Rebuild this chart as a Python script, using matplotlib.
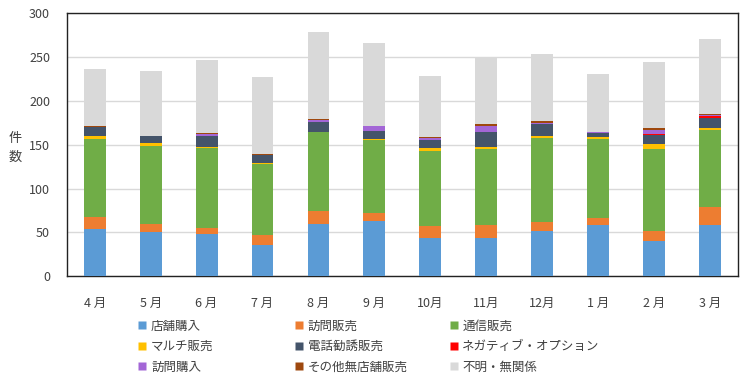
import matplotlib
matplotlib.use("Agg")
import matplotlib.pyplot as plt
from matplotlib.lines import Line2D
import numpy as np

plt.rcParams['font.family'] = ['Noto Sans CJK JP', 'DejaVu Sans']

months = ["4 月", "5 月", "6 月", "7 月", "8 月", "9 月", "10月", "11月", "12月", "1 月", "2 月", "3 月"]
series_names = ["店舗購入", "訪問販売", "通信販売", "マルチ販売", "電話勧誘販売",
                "ネガティブ・オプション", "訪問購入", "その他無店舗販売", "不明・無関係"]

tenpo    = [54, 50, 48, 36, 60, 63, 44, 44, 51, 58, 40, 58]
houmon   = [13, 10,  7, 11, 14,  9, 13, 14, 11,  8, 12, 21]
tsushin  = [90, 89, 91, 81, 91, 84, 86, 87, 96, 91, 93, 88]
multi    = [ 3,  3,  2,  1,  0,  1,  3,  3,  2,  2,  6,  2]
denwa    = [10,  8, 12,  9, 11,  9,  9, 17, 14,  4, 10, 12]
negative = [ 0,  0,  0,  0,  0,  0,  0,  0,  0,  1,  1,  2]
kaitori  = [ 0,  0,  2,  0,  2,  5,  3,  7,  1,  1,  5,  1]
sonota   = [ 2,  0,  2,  1,  1,  0,  1,  2,  2,  0,  2,  1]
fumei    = [65, 74, 83, 88,100, 95, 70, 76, 77, 66, 75, 86]

series = [tenpo, houmon, tsushin, multi, denwa, negative, kaitori, sonota, fumei]
colors = ["#5B9BD5", "#ED7D31", "#70AD47", "#FFC000", "#44546A",
          "#FF0000", "#A366D6", "#9E480E", "#D9D9D9"]

fig = plt.figure(figsize=(7.5, 3.85), dpi=100)
ax = fig.add_axes([0.089, 0.283, 0.895, 0.682])

x = np.arange(len(months))
bottom = np.zeros(len(months))
for vals, c in zip(series, colors):
    v = np.array(vals, dtype=float)
    ax.bar(x, v, bottom=bottom, width=0.39, color=c, edgecolor='none', zorder=3)
    bottom += v

ax.set_xlim(-0.5, len(months) - 0.5)
ax.set_ylim(0, 300)
ax.set_yticks(range(0, 301, 50))
ax.set_xticks(x)
ax.set_xticklabels(months)
ax.yaxis.grid(True, color="#D9D9D9", linewidth=1, zorder=0)
ax.set_axisbelow(True)
for s in ax.spines.values():
    s.set_color("#222222")
    s.set_linewidth(1)
ax.tick_params(axis='both', length=0, labelsize=9, colors="#404040")
ax.tick_params(axis='y', pad=12)
ax.tick_params(axis='x', pad=15)

fig.text(0.02, 0.615, "件\n数", ha='center', va='center', fontsize=9.5,
         color="#404040", linespacing=1.6)

col_x = [0.183, 0.392, 0.598]
for ci in range(3):
    idx = [ci, ci + 3, ci + 6]
    handles = [Line2D([], [], marker='s', linestyle='none', markersize=6,
                      markerfacecolor=colors[i], markeredgecolor='none') for i in idx]
    labels = [series_names[i] for i in idx]
    fig.legend(handles, labels, loc='upper left', bbox_to_anchor=(col_x[ci], 0.17),
               frameon=False, fontsize=9, handlelength=0.8, handletextpad=0.3,
               labelspacing=0.6, borderpad=0, borderaxespad=0, labelcolor="#404040")

fig.savefig("out.png", dpi=100)
